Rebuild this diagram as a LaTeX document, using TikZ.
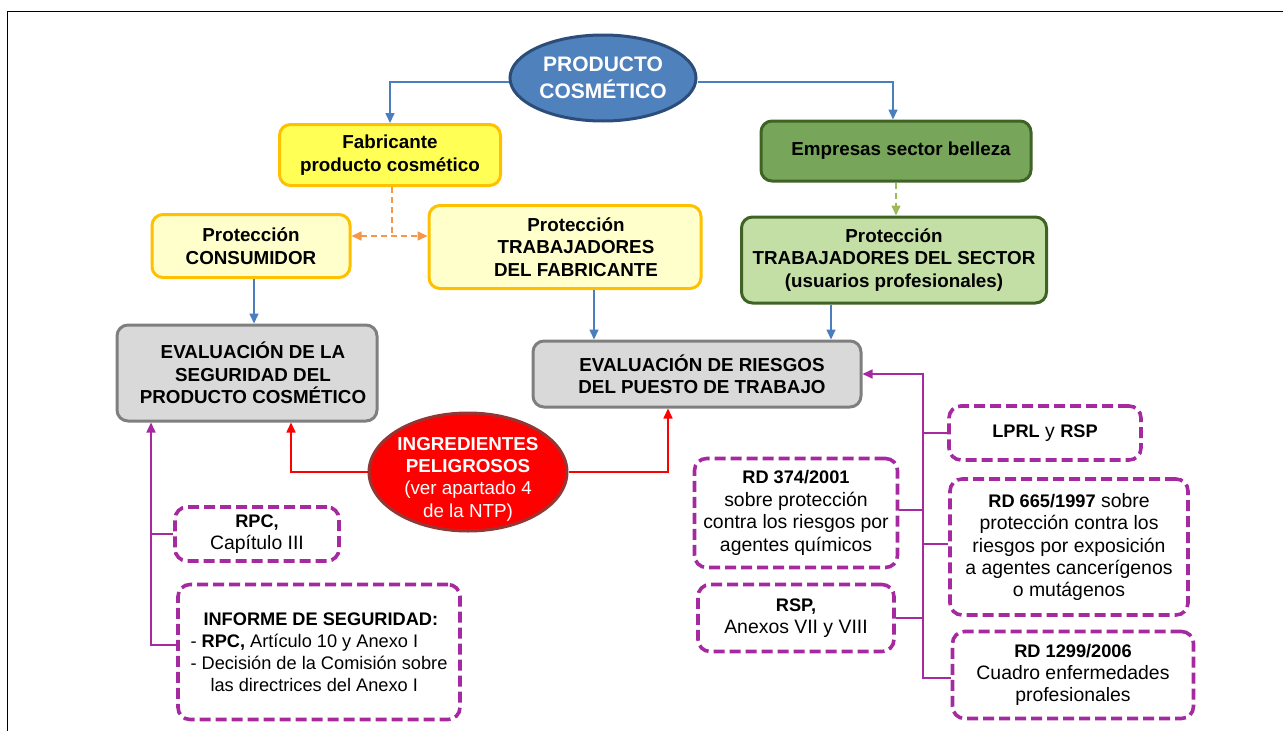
\documentclass[tikz,border=0pt]{standalone}
\usepackage{fontspec}
\setmainfont{Liberation Sans}
\usetikzlibrary{shapes.geometric,arrows.meta}

\definecolor{prodfill}{HTML}{4F81BD}
\definecolor{proddraw}{HTML}{2C4D7A}
\definecolor{linkblue}{HTML}{4A7EBF}
\definecolor{fabfill}{HTML}{FFFF55}
\definecolor{gold}{HTML}{FFC000}
\definecolor{protfill}{HTML}{FFFFCC}
\definecolor{linkorange}{HTML}{F79646}
\definecolor{empfill}{HTML}{77A55A}
\definecolor{darkgreen}{HTML}{3F6324}
\definecolor{secfill}{HTML}{C3DFA6}
\definecolor{linkgreen}{HTML}{9BBB59}
\definecolor{evalfill}{HTML}{D9D9D9}
\definecolor{evaldraw}{HTML}{7F7F7F}
\definecolor{ingdraw}{HTML}{943634}
\definecolor{normpurple}{HTML}{A52AA0}

\newcommand{\rulebf}[1]{{\fontsize{18.2}{22.4}\selectfont\bfseries #1}}

\begin{document}
\begin{tikzpicture}[x=1pt,y=-1pt]
    \tikzset{every node/.style={font=\fontsize{19.4}{22.4}\selectfont, align=center, inner sep=0pt},
        box/.style={draw, rounded corners=11pt, line width=3pt, font=\fontsize{18.8}{22.4}\selectfont\bfseries},
        yellowbox/.style={box, draw=gold, fill=protfill},
        greenbox/.style={box, draw=darkgreen, fill=secfill},
        evalbox/.style={box, draw=evaldraw, fill=evalfill},
        normbox/.style={draw=normpurple, rounded corners=12pt, line width=3.6pt,
            dash pattern=on 11pt off 5pt},
        tip/.style={-{Triangle[length=10pt,width=9pt]}},
        blueline/.style={draw=linkblue, line width=1.6pt, tip},
        redline/.style={draw=red, line width=1.6pt, tip},
        purpleline/.style={draw=normpurple, line width=1.6pt},
        orangeline/.style={draw=linkorange, line width=1.6pt, dash pattern=on 6pt off 4pt}}
    \useasboundingbox (0,0) rectangle (1283,731);
    \draw[line width=1pt] (1283,11) -- (7,11) -- (7,731);

    % top
    \node[ellipse, draw=proddraw, fill=prodfill, line width=3pt, minimum width=186pt,
        minimum height=86pt, text=white, font=\fontsize{21}{27}\selectfont\bfseries]
        (prod) at (603,78) {PRODUCTO\\COSMÉTICO};
    \node[box, draw=gold, fill=fabfill, minimum width=221pt, minimum height=61pt]
        (fab) at (390,155) {Fabricante\\producto cosmético};
    \node[box, draw=darkgreen, fill=empfill, minimum width=270pt, minimum height=60pt]
        (emp) at (896,151) {\hspace*{10pt}Empresas sector belleza};

    % protection
    \node[yellowbox, minimum width=198pt, minimum height=63pt] (cons) at (251,246)
        {Protección\\CONSUMIDOR};
    \node[yellowbox, minimum width=272pt, minimum height=83pt] (ptf) at (565,247)
        {\hspace*{22pt}Protección\\\hspace*{22pt}TRABAJADORES\\\hspace*{22pt}DEL FABRICANTE};
    \node[greenbox, minimum width=305pt, minimum height=86pt] (sec) at (894,260)
        {Protección\\TRABAJADORES DEL SECTOR\\(usuarios profesionales)};

    % evaluation
    \node[evalbox, minimum width=260pt, minimum height=96pt] (evs) at (247,373)
        {\hspace*{12pt}EVALUACIÓN DE LA\\\hspace*{12pt}SEGURIDAD DEL\\\hspace*{12pt}PRODUCTO COSMÉTICO};
    \node[evalbox, minimum width=328pt, minimum height=66pt] (evr) at (697,374)
        {\hspace*{10pt}EVALUACIÓN DE RIESGOS\\\hspace*{10pt}DEL PUESTO DE TRABAJO};
    \node[ellipse, draw=ingdraw, fill=red, line width=3pt, minimum width=198pt,
        minimum height=118pt] (ing) at (468,472) {};
    \node[text=white, font=\fontsize{18.8}{22.4}\selectfont\bfseries] (ingtext)
        at ([yshift=-7pt]ing.center) {INGREDIENTES\\PELIGROSOS\\{\mdseries (ver apartado 4}\\{\mdseries de la NTP)}};

    % regulations
    \node[normbox, minimum width=164pt, minimum height=54pt] (rpc) at (257,534)
        {\rulebf{RPC,}\\Capítulo III};
    \node[normbox, align=left, font=\fontsize{18.2}{22}\selectfont, minimum width=282pt,
        minimum height=135pt] (inf) at (319,652)
        {\hspace*{13pt}\rulebf{INFORME DE SEGURIDAD:}\\- \rulebf{RPC,} Artículo 10 y Anexo I\\- Decisión de la Comisión sobre\\\hspace*{20pt}las directrices del Anexo I};
    \node[normbox, minimum width=203pt, minimum height=109pt] (r374) at (796,513)
        {\rulebf{RD 374/2001}\\sobre protección\\contra los riesgos por\\agentes químicos};
    \node[normbox, minimum width=196pt, minimum height=67pt] (rsp) at (796,618)
        {\rulebf{RSP,}\\Anexos VII y VIII};
    \node[normbox, minimum width=192pt, minimum height=54pt] (lprl) at (1045,433)
        {\rulebf{LPRL} y \rulebf{RSP}};
    \node[normbox, minimum width=238pt, minimum height=136pt] (r665) at (1069,547)
        {\rulebf{RD 665/1997} sobre\\protección contra los\\riesgos por exposición\\a agentes cancerígenos\\o mutágenos};
    \node[normbox, minimum width=241pt, minimum height=87pt] (r1299) at (1073,675)
        {\rulebf{RD 1299/2006}\\Cuadro enfermedades\\profesionales};

    % links
    \draw[blueline] ([yshift=-4pt]prod.west) -| (fab.north);
    \draw[blueline] ([yshift=-4pt]prod.east) -| ([xshift=-3pt]emp.north);
    \coordinate (orsplit) at ([xshift=2pt]fab.south |- 0,236);
    \draw[orangeline] ([xshift=2pt]fab.south) -- (orsplit);
    \draw[orangeline, {Triangle[length=10pt,width=9pt]}-{Triangle[length=10pt,width=9pt]}]
        (orsplit -| cons.east) -- (orsplit -| ptf.west);
    \draw[draw=linkgreen, line width=1.6pt, dash pattern=on 6pt off 4pt, tip] (emp.south) -- (emp.south |- sec.north);
    \draw[blueline] ([xshift=3pt]cons.south) -- ([xshift=3pt]cons.south |- evs.north);
    \draw[blueline] ([xshift=29pt]ptf.south) -- ([xshift=29pt]ptf.south |- evr.north);
    \draw[blueline] ([xshift=-63pt]sec.south) -- ([xshift=-63pt]sec.south |- evr.north);
    \draw[redline] (ing.west) -| ([xshift=44pt]evs.south);
    \draw[redline] (ing.east) -| ([xshift=-29pt]evr.south);

    \coordinate (lbus) at ([xshift=-96pt]evs.south);
    \draw[purpleline, tip] ([yshift=7pt]inf.west) -| (lbus);
    \draw[purpleline] (rpc.west) -- (rpc.west -| lbus);
    \coordinate (rbus) at (923,374);
    \draw[purpleline, tip] ([yshift=-3pt]r1299.west) -| (rbus) -- (evr.east);
    \draw[purpleline] (lprl.west) -- (lprl.west -| rbus);
    \draw[purpleline] ([yshift=3pt]r665.west) -- ([yshift=3pt]r665.west -| rbus);
    \draw[purpleline] ([yshift=3pt]r374.east) -- ([yshift=3pt]r374.east -| rbus);
    \draw[purpleline] (rsp.east) -- (rsp.east -| rbus);
\end{tikzpicture}
\end{document}
